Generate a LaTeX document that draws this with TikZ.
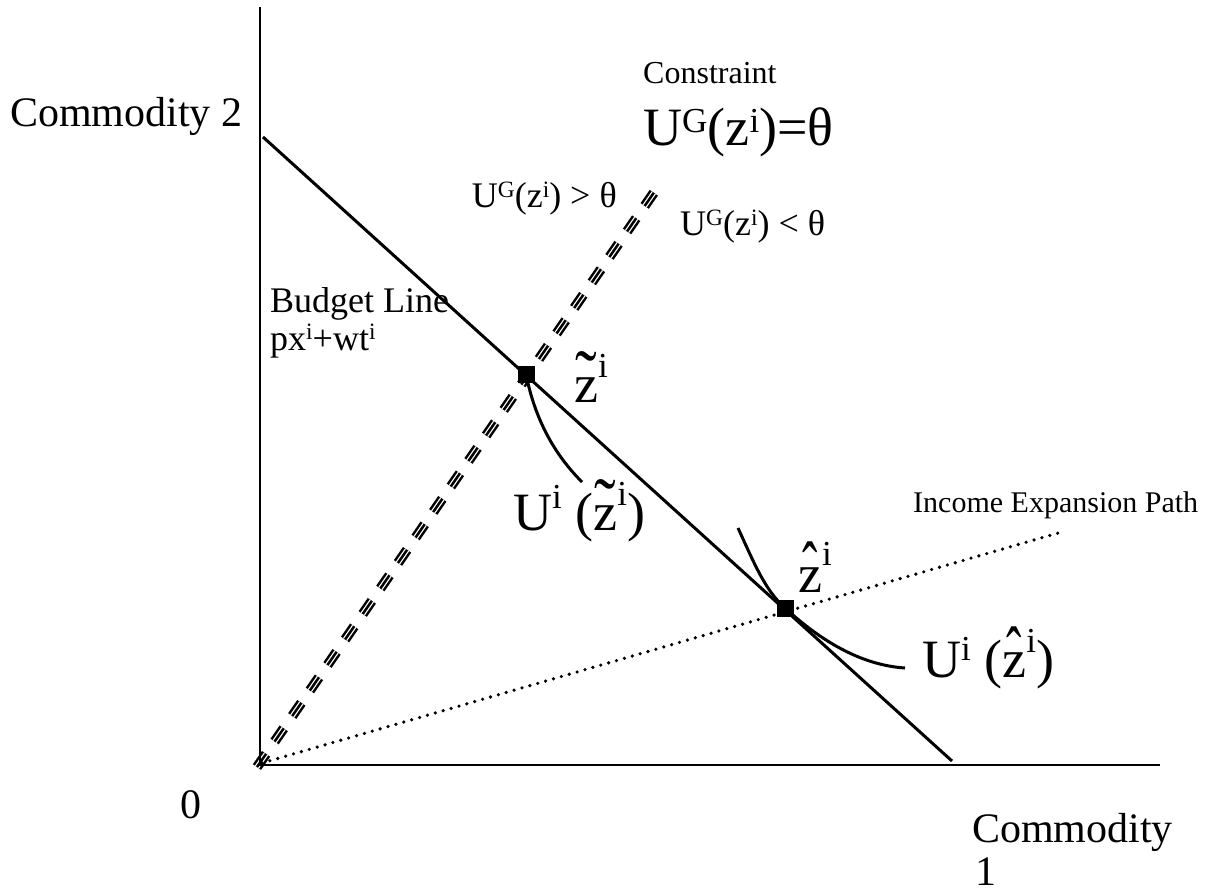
\documentclass[tikz,border=0pt]{standalone}
\usepackage{fontspec}
\setmainfont{Liberation Serif}
\newcommand\fs[1]{\fontsize{#1}{#1}\selectfont}
\newcommand\sx[2][0.25em]{\raisebox{#1}{\scalebox{0.65}{#2}}}
\newcommand\tz{\leavevmode\rlap{\hbox to 0.444em{\hss\scalebox{1.2}[1.4]{\char"02DC}\hss}}z}
\newcommand\hz{\leavevmode\rlap{\hbox to 0.444em{\hss\scalebox{0.85}[1.35]{\char"02C6}\hss}}z}
\tikzset{
  lbl/.style={inner sep=0pt, anchor=base west, font=\fs{#1}},
  lble/.style={inner sep=0pt, anchor=base east, font=\fs{#1}},
  axisline/.style={line width=1.8pt},
  budget/.style={line width=3pt},
  curve/.style={line width=3pt},
  dotline/.style={line width=3.6pt, line cap=round, dash pattern=on 0pt off 8.2pt},
  cdash/.style={dash pattern=on 16pt off 15pt},
  marker/.style={fill=black, draw=none, minimum size=17pt, inner sep=0pt, rectangle},
}
\begin{document}
\begin{tikzpicture}[x=1pt,y=-1pt]
\useasboundingbox (0,0) rectangle (1223,892);
% coordinates
\coordinate (O) at (260,765);
\coordinate (ytop) at (260,7);
\coordinate (xend) at (1160,765);
\coordinate (bS) at (263,137);
\coordinate (bE) at (952,761);
\coordinate (cS) at (257,767);
\coordinate (cE) at (655,191);
\coordinate (pS) at (262,763);
\coordinate (pE) at (1065,531);
\coordinate (hS) at (738,528);
\coordinate (hE) at (905,668);
\coordinate (tE) at (582,482);
% constraint triple dashed line
\draw[cdash, line width=10pt] (cS) -- (cE);
\draw[cdash, white, line width=5pt] (cS) -- (cE);
\draw[cdash, line width=2.5pt] (cS) -- (cE);
% axes
\draw[axisline] (ytop) -- (O) -- (xend);
% budget line
\draw[budget] (bS) -- (bE);
% income expansion path
\draw[dotline] (pS) -- (pE);
% markers
\node[marker] (zt) at (526,374) {};
\node[marker] (zh) at (785,608) {};
% indifference curves
\draw[curve] (zt.center) .. controls (535,420) and (555,455) .. (tE);
\draw[curve] (hS) .. controls (755,565) and (765,590) .. (zh.center) .. controls (820,640) and (860,665) .. (hE);
% labels
\node[lbl=42] (c2) at (10,126) {Commodity 2};
\node[lbl=42] (c1a) at (972,842) {Commodity};
\node[lbl=42] (c1b) at (975,885) {1};
\node[lbl=42] (zero) at (180,818) {0};
\node[lbl=32] (constr) at (643,83) {Constraint};
\node[lbl=54] (ug) at (643,145) {U\sx[0.24em]{G}(z\sx[0.24em]{i})=θ};
\node[lble=36] (ugt) at (617,207) {U\sx[0.27em]{G}(z\sx[0.27em]{i}) > θ};
\node[lbl=36] (ugl) at (680,235) {U\sx[0.27em]{G}(z\sx[0.27em]{i}) < θ};
\node[lbl=36] (bl1) at (270,312) {Budget Line};
\node[lbl=36] (bl2) at (270,350) {px\sx[0.3em]{i}+wt\sx[0.3em]{i}};
\node[lbl=54] (ztl) at (574,402) {\tz\sx[0.46em]{i}};
\node[lbl=54] (uzt) at (513,530) {U\sx[0.4em]{i} (\tz\sx[0.46em]{i})};
\node[lbl=54] (zhl) at (798,592) {\hz\sx[0.5em]{i}};
\node[lbl=54] (uzh) at (922,677) {U\sx[0.3em]{i} (\hz\sx[0.45em]{i})};
\node[lbl=30] (iep) at (913,512) {Income Expansion Path};
\end{tikzpicture}
\end{document}
